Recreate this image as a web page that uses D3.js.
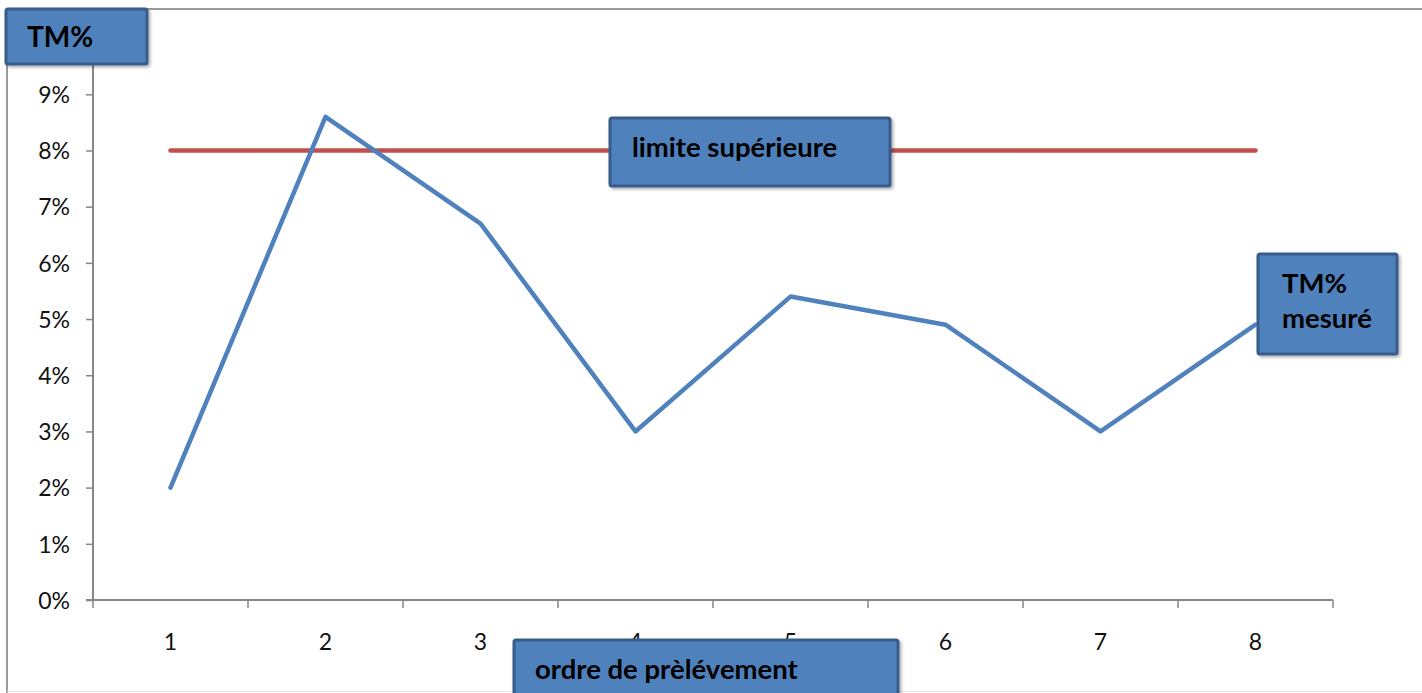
<!DOCTYPE html>
<html>
<head>
<meta charset="utf-8">
<script src="https://cdn.jsdelivr.net/npm/d3@7/dist/d3.min.js"></script>
<style>
  html, body { margin: 0; padding: 0; background: #fff; }
  svg { display: block; }
  text { font-family: Lato, "Open Sans", sans-serif; }
</style>
</head>
<body>
<svg id="chart" width="1422" height="693"></svg>
<script>
// Sample order and measured TM% per sample
const categories = ["1", "2", "3", "4", "5", "6", "7", "8"];
const measured = [0.02, 0.086, 0.067, 0.03, 0.054, 0.049, 0.03, 0.049];
const upperLimit = [0.08, 0.08, 0.08, 0.08, 0.08, 0.08, 0.08, 0.08];
const yTicks = [0, 0.01, 0.02, 0.03, 0.04, 0.05, 0.06, 0.07, 0.08, 0.09];

const svg = d3.select("#chart");
const W = 1422, H = 693;
const plot = { left: 93, right: 1333, top: 94.3, bottom: 600 };

const x = d3.scaleBand().domain(categories).range([plot.left, plot.right]).paddingInner(0).paddingOuter(0);
const y = d3.scaleLinear().domain([0, 0.09]).range([plot.bottom, plot.top]);
const cx = d => x(d) + x.bandwidth() / 2;

const defs = svg.append("defs");
const shadow = defs.append("filter").attr("id", "shadow")
  .attr("x", "-10%").attr("y", "-10%").attr("width", "130%").attr("height", "140%");
shadow.append("feDropShadow").attr("dx", 2).attr("dy", 2).attr("stdDeviation", 1.5)
  .attr("flood-color", "#000").attr("flood-opacity", 0.3);

// outer frame of the chart area
svg.append("line").attr("x1", 140).attr("x2", W).attr("y1", 9).attr("y2", 9)
  .attr("stroke", "#9a9a9a").attr("stroke-width", 2);
svg.append("line").attr("x1", 7).attr("x2", 7).attr("y1", 9).attr("y2", H)
  .attr("stroke", "#9a9a9a").attr("stroke-width", 2);
svg.append("line").attr("x1", 7).attr("x2", W).attr("y1", 691.5).attr("y2", 691.5)
  .attr("stroke", "#e6e6e6").attr("stroke-width", 1);

const axisColor = "#878787";

// y axis
const yAxis = d3.axisLeft(y).tickValues(yTicks).tickFormat(d3.format(".0%"))
  .tickSize(7).tickPadding(16);
const gy = svg.append("g").attr("transform", `translate(${plot.left},0)`).call(yAxis);
gy.select(".domain").remove();
gy.append("line").attr("x1", 0).attr("x2", 0).attr("y1", 40).attr("y2", plot.bottom)
  .attr("stroke", axisColor).attr("stroke-width", 2);
gy.selectAll(".tick line").attr("stroke", axisColor).attr("stroke-width", 1.5);
gy.selectAll(".tick text").attr("font-size", 23).attr("fill", "#111")
  .attr("font-family", "Lato, sans-serif").attr("dy", "0.36em");

// x axis: ticks on band boundaries, labels at band centres
const boundaries = categories.map(c => x(c)).concat([plot.right]);
const gx = svg.append("g");
gx.append("line").attr("x1", plot.left - 7).attr("x2", plot.right).attr("y1", plot.bottom).attr("y2", plot.bottom)
  .attr("stroke", axisColor).attr("stroke-width", 2);
gx.selectAll("line.tick").data(boundaries).join("line").attr("class", "tick")
  .attr("x1", d => d).attr("x2", d => d).attr("y1", plot.bottom).attr("y2", plot.bottom + 8)
  .attr("stroke", axisColor).attr("stroke-width", 1.5);
gx.selectAll("text").data(categories).join("text")
  .attr("x", d => cx(d)).attr("y", 650).attr("text-anchor", "middle")
  .attr("font-size", 23).attr("fill", "#111").text(d => d);

// upper limit line
svg.append("path")
  .datum(categories.map((c, i) => [cx(c), y(upperLimit[i])]))
  .attr("d", d3.line())
  .attr("fill", "none").attr("stroke", "#c0504d").attr("stroke-width", 4.5)
  .attr("stroke-linecap", "round");

// measured series
svg.append("path")
  .datum(categories.map((c, i) => [cx(c), y(measured[i])]))
  .attr("d", d3.line())
  .attr("fill", "none").attr("stroke", "#4f81bd").attr("stroke-width", 4.5)
  .attr("stroke-linecap", "round").attr("stroke-linejoin", "round");

// labelled boxes (drawn over the plot)
const boxes = [
  { x: 6, y: 9, w: 141, h: 55, lines: ["TM%"], tx: 27, ty: 47, size: 28 },
  { x: 610, y: 118, w: 280, h: 68, lines: ["limite supérieure"], tx: 632, ty: 157, size: 27.5 },
  { x: 1258, y: 254, w: 139, h: 100, lines: ["TM%", "mesuré"], tx: 1282, ty: 293, size: 27.5 },
  { x: 514, y: 640, w: 384, h: 70, lines: ["ordre de prèlévement"], tx: 535, ty: 679, size: 27.5 }
];
const gb = svg.selectAll("g.box").data(boxes).join("g").attr("class", "box");
gb.append("rect")
  .attr("x", d => d.x).attr("y", d => d.y).attr("width", d => d.w).attr("height", d => d.h)
  .attr("rx", 2).attr("fill", "#4f81bd").attr("stroke", "#385d8a").attr("stroke-width", 3)
  .attr("filter", "url(#shadow)");
gb.each(function(d) {
  const g = d3.select(this);
  d.lines.forEach((t, i) => {
    g.append("text").attr("x", d.tx).attr("y", d.ty + i * 35)
      .attr("font-size", d.size).attr("font-weight", 700).attr("fill", "#000").text(t);
  });
});
</script>
</body>
</html>
